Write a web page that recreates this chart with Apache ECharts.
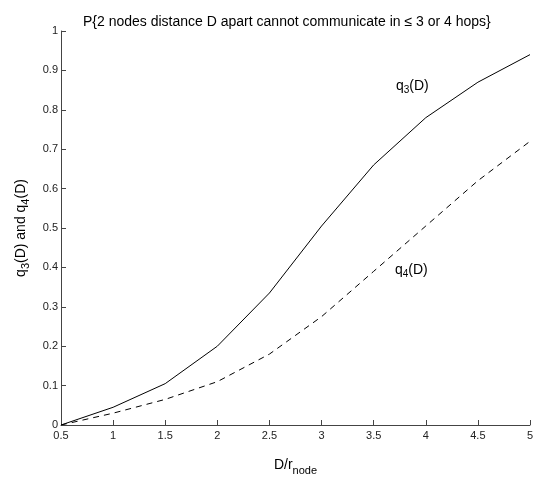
<!doctype html>
<html lang="en">
  <head>
    <meta charset="UTF-8" />
    <title>q3 q4</title>
    <style>
      body { margin: 0; background: #fff; }
    </style>
  </head>
  <body>
    <div id="chart1" style="width: 545px; height: 481px"></div>
    <script src="https://cdn.jsdelivr.net/npm/echarts@6/dist/echarts.min.js"></script>
    <script>
      // distances D / r_node
      const distances = [0.5, 1, 1.5, 2, 2.5, 3, 3.5, 4, 4.5, 5];
      // q3(D): cannot communicate in <= 3 hops
      const q3 = [0, 0.045, 0.105, 0.2, 0.335, 0.505, 0.66, 0.78, 0.87, 0.94];
      // q4(D): cannot communicate in <= 4 hops
      const q4 = [0, 0.03, 0.065, 0.11, 0.18, 0.275, 0.39, 0.505, 0.62, 0.72];

      const font = "Liberation Sans, Arial, sans-serif";
      const subStyle = { fontSize: 10, fontFamily: font, color: "#000", padding: [8, 0, 0, 0] };

      const myChart = echarts.init(document.querySelector("#chart1"));

      const option = {
        animation: false,
        title: {
          text: "P{2 nodes distance D apart cannot communicate in \u2264 3 or 4 hops}",
          left: 78,
          top: 10,
          textStyle: { fontSize: 14, fontWeight: "normal", fontFamily: font, color: "#000" },
        },
        grid: { left: 61, right: 15, top: 31, bottom: 52 },
        xAxis: {
          type: "value",
          min: 0.5,
          max: 5,
          interval: 0.5,
          name: "{a|D/r}{s|node}",
          nameLocation: "middle",
          nameGap: 30,
          nameTextStyle: {
            rich: {
              a: { fontSize: 14, fontFamily: font, color: "#000" },
              s: { fontSize: 11, fontFamily: font, color: "#000", padding: [10, 0, 0, 0] },
            },
          },
          axisLine: { lineStyle: { color: "#444", width: 1 } },
          axisTick: { inside: true, length: 5, lineStyle: { color: "#444" } },
          axisLabel: { fontSize: 11, fontFamily: font, color: "#222", margin: 5 },
          splitLine: { show: false },
        },
        yAxis: {
          type: "value",
          min: 0,
          max: 1,
          interval: 0.1,
          name: "{a|q}{s|3}{a|(D) and q}{s|4}{a|(D)}",
          nameLocation: "middle",
          nameRotate: 90,
          nameGap: 30,
          nameTextStyle: {
            rich: {
              a: { fontSize: 14, fontFamily: font, color: "#000" },
              s: { fontSize: 11, fontFamily: font, color: "#000", padding: [8, 0, 0, 0] },
            },
          },
          axisLine: { show: true, lineStyle: { color: "#444", width: 1 } },
          axisTick: { show: true, inside: true, length: 5, lineStyle: { color: "#444" } },
          axisLabel: { fontSize: 11, fontFamily: font, color: "#222", margin: 3 },
          splitLine: { show: false },
        },
        series: [
          {
            name: "q3",
            type: "line",
            data: distances.map((d, i) => [d, q3[i]]),
            showSymbol: false,
            lineStyle: { color: "#000", width: 1 },
          },
          {
            name: "q4",
            type: "line",
            data: distances.map((d, i) => [d, q4[i]]),
            showSymbol: false,
            lineStyle: { color: "#000", width: 1, type: [6, 5] },
          },
        ],
        graphic: [
          {
            type: "text",
            left: 396,
            top: 79,
            style: {
              text: "{a|q}{s|3}{a|(D)}",
              rich: {
                a: { fontSize: 14, fontFamily: font, color: "#000" },
                s: subStyle,
              },
            },
          },
          {
            type: "text",
            left: 395,
            top: 263,
            style: {
              text: "{a|q}{s|4}{a|(D)}",
              rich: {
                a: { fontSize: 14, fontFamily: font, color: "#000" },
                s: subStyle,
              },
            },
          },
        ],
      };

      myChart.setOption(option);
    </script>
  </body>
</html>
